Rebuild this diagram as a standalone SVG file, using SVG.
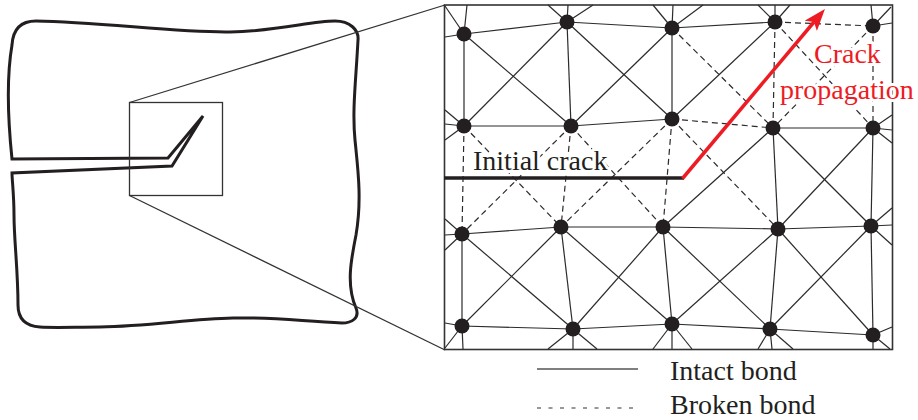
<svg xmlns="http://www.w3.org/2000/svg" width="918" height="420" viewBox="0 0 918 420">
  <style>
    .bond { stroke: #2b2b2b; stroke-width: 1.2; fill: none; stroke-linecap: butt; }
    .broken { stroke: #2b2b2b; stroke-width: 1.2; fill: none; stroke-dasharray: 6 4; }
    .particle { fill: #231f20; }
    .outline { fill: none; stroke: #231f20; stroke-width: 3; stroke-linejoin: miter; }
    .thin { fill: none; stroke: #333; stroke-width: 1.3; }
    .label { font-family: "Liberation Serif", "Times New Roman", serif; font-size: 28px; fill: #231f20; }
    .halo { paint-order: stroke; stroke: #fff; stroke-width: 6; stroke-linejoin: round; }
    .red { fill: #ed1c24; }
  </style>
  <defs>
    <marker id="arrow-red" viewBox="0 0 22 16" refX="5" refY="8" markerWidth="22" markerHeight="16" orient="auto" markerUnits="userSpaceOnUse">
      <path d="M0,0 L22,8 L0,16 L5,8 Z" fill="#ed1c24"/>
    </marker>
  </defs>
  <rect width="918" height="420" fill="#fff"/>

  <!-- specimen with pre-crack -->
  <g id="specimen">
    <path class="outline" d="M12,159 C9,130 6,80 12,45 C13,28 22,21 36,21 C100,22 180,33 230,32 C280,31 310,21 335,21 C350,21 359,30 358,40 C356,80 352,110 355,140 C358,170 362,200 356,235 C351,260 346,285 356,308 C360,318 352,323 342,323 C300,321 270,317 233,318 C190,319 150,326 100,327 C75,327 55,328 40,327 C25,326 18,318 18,305 C18,270 14,240 14,215 C14,195 12,180 12,173 L172,166 L203,116 L168,158 Z"/>
    <rect class="thin" x="129.5" y="102.5" width="93" height="93"/>
    <line class="thin" x1="129.5" y1="102.5" x2="445" y2="5"/>
    <line class="thin" x1="129.5" y1="195.5" x2="445" y2="350"/>
  </g>

  <!-- enlarged region -->
  <rect id="zoom-frame" x="444.5" y="5" width="448" height="344.5" fill="none" stroke="#333" stroke-width="1.6"/>

  <g id="connectors">
    <!-- intact bonds -->
    <g class="bond">
      <line x1="464" y1="34" x2="567" y2="22"/>
      <line x1="567" y1="22" x2="672" y2="28"/>
      <line x1="672" y1="28" x2="775" y2="22"/>
      <line x1="464" y1="34" x2="464" y2="126"/>
      <line x1="567" y1="22" x2="571" y2="126"/>
      <line x1="672" y1="28" x2="672" y2="119"/>
      <line x1="464" y1="34" x2="571" y2="126"/>
      <line x1="567" y1="22" x2="464" y2="126"/>
      <line x1="567" y1="22" x2="672" y2="119"/>
      <line x1="672" y1="28" x2="571" y2="126"/>
      <line x1="672" y1="119" x2="775" y2="22"/>
      <line x1="464" y1="126" x2="571" y2="126"/>
      <line x1="571" y1="126" x2="672" y2="119"/>
      <line x1="773" y1="128" x2="873" y2="128"/>
      <line x1="773" y1="128" x2="778" y2="229"/>
      <line x1="773" y1="128" x2="663" y2="227"/>
      <line x1="773" y1="128" x2="871" y2="226"/>
      <line x1="873" y1="128" x2="778" y2="229"/>
      <line x1="873" y1="128" x2="871" y2="226"/>
      <line x1="462" y1="234" x2="561" y2="227"/>
      <line x1="561" y1="227" x2="663" y2="227"/>
      <line x1="663" y1="227" x2="778" y2="229"/>
      <line x1="778" y1="229" x2="871" y2="226"/>
      <line x1="462" y1="234" x2="462" y2="326"/>
      <line x1="462" y1="234" x2="573" y2="329"/>
      <line x1="561" y1="227" x2="462" y2="326"/>
      <line x1="561" y1="227" x2="573" y2="329"/>
      <line x1="561" y1="227" x2="672" y2="324"/>
      <line x1="663" y1="227" x2="573" y2="329"/>
      <line x1="663" y1="227" x2="672" y2="324"/>
      <line x1="663" y1="227" x2="770" y2="329"/>
      <line x1="778" y1="229" x2="672" y2="324"/>
      <line x1="778" y1="229" x2="770" y2="329"/>
      <line x1="778" y1="229" x2="873" y2="335"/>
      <line x1="871" y1="226" x2="770" y2="329"/>
      <line x1="871" y1="226" x2="873" y2="335"/>
      <line x1="462" y1="326" x2="573" y2="329"/>
      <line x1="573" y1="329" x2="672" y2="324"/>
      <line x1="672" y1="324" x2="770" y2="329"/>
      <line x1="770" y1="329" x2="873" y2="335"/>
      <!-- bonds to particles outside the frame -->
      <line x1="464" y1="34" x2="445" y2="6"/>
      <line x1="464" y1="34" x2="467" y2="5"/>
      <line x1="464" y1="34" x2="445" y2="37"/>
      <line x1="567" y1="22" x2="548" y2="5"/>
      <line x1="567" y1="22" x2="568" y2="5"/>
      <line x1="567" y1="22" x2="593" y2="5"/>
      <line x1="672" y1="28" x2="653" y2="5"/>
      <line x1="672" y1="28" x2="673" y2="5"/>
      <line x1="672" y1="28" x2="703" y2="5"/>
      <line x1="775" y1="22" x2="758" y2="5"/>
      <line x1="775" y1="22" x2="775" y2="5"/>
      <line x1="775" y1="22" x2="790" y2="5"/>
      <line x1="873" y1="26" x2="871" y2="5"/>
      <line x1="873" y1="26" x2="891" y2="7"/>
      <line x1="873" y1="26" x2="892" y2="23"/>
      <line x1="464" y1="126" x2="445" y2="110"/>
      <line x1="464" y1="126" x2="445" y2="124"/>
      <line x1="464" y1="126" x2="445" y2="140"/>
      <line x1="873" y1="128" x2="892" y2="115"/>
      <line x1="873" y1="128" x2="892" y2="130"/>
      <line x1="873" y1="128" x2="892" y2="143"/>
      <line x1="462" y1="234" x2="445" y2="219"/>
      <line x1="462" y1="234" x2="445" y2="235"/>
      <line x1="462" y1="234" x2="445" y2="250"/>
      <line x1="871" y1="226" x2="892" y2="208"/>
      <line x1="871" y1="226" x2="892" y2="225"/>
      <line x1="871" y1="226" x2="892" y2="245"/>
      <line x1="462" y1="326" x2="445" y2="323"/>
      <line x1="462" y1="326" x2="445" y2="348"/>
      <line x1="462" y1="326" x2="463" y2="349"/>
      <line x1="573" y1="329" x2="548" y2="349"/>
      <line x1="573" y1="329" x2="573" y2="349"/>
      <line x1="573" y1="329" x2="597" y2="349"/>
      <line x1="672" y1="324" x2="653" y2="349"/>
      <line x1="672" y1="324" x2="672" y2="349"/>
      <line x1="672" y1="324" x2="692" y2="349"/>
      <line x1="770" y1="329" x2="758" y2="349"/>
      <line x1="770" y1="329" x2="772" y2="349"/>
      <line x1="770" y1="329" x2="793" y2="349"/>
      <line x1="873" y1="335" x2="892" y2="327"/>
      <line x1="873" y1="335" x2="873" y2="349"/>
      <line x1="873" y1="335" x2="890" y2="349"/>
    </g>
    <!-- broken bonds -->
    <g class="broken">
      <line x1="464" y1="126" x2="462" y2="234"/>
      <line x1="464" y1="126" x2="561" y2="227"/>
      <line x1="571" y1="126" x2="462" y2="234"/>
      <line x1="571" y1="126" x2="561" y2="227"/>
      <line x1="571" y1="126" x2="663" y2="227"/>
      <line x1="672" y1="119" x2="561" y2="227"/>
      <line x1="672" y1="119" x2="663" y2="227"/>
      <line x1="672" y1="119" x2="778" y2="229"/>
      <line x1="672" y1="119" x2="773" y2="128"/>
      <line x1="672" y1="28" x2="773" y2="128"/>
      <line x1="775" y1="22" x2="873" y2="26"/>
      <line x1="775" y1="22" x2="773" y2="128"/>
      <line x1="775" y1="22" x2="873" y2="128"/>
      <line x1="873" y1="26" x2="773" y2="128"/>
      <line x1="873" y1="26" x2="873" y2="128"/>
    </g>
  </g>

  <!-- material particles -->
  <g id="A1"><circle class="particle" cx="464" cy="34" r="7.5"/></g>
  <g id="A2"><circle class="particle" cx="567" cy="22" r="7.5"/></g>
  <g id="A3"><circle class="particle" cx="672" cy="28" r="7.5"/></g>
  <g id="A4"><circle class="particle" cx="775" cy="22" r="7.5"/></g>
  <g id="A5"><circle class="particle" cx="873" cy="26" r="7.5"/></g>
  <g id="B1"><circle class="particle" cx="464" cy="126" r="7.5"/></g>
  <g id="B2"><circle class="particle" cx="571" cy="126" r="7.5"/></g>
  <g id="B3"><circle class="particle" cx="672" cy="119" r="7.5"/></g>
  <g id="B4"><circle class="particle" cx="773" cy="128" r="7.5"/></g>
  <g id="B5"><circle class="particle" cx="873" cy="128" r="7.5"/></g>
  <g id="C1"><circle class="particle" cx="462" cy="234" r="7.5"/></g>
  <g id="C2"><circle class="particle" cx="561" cy="227" r="7.5"/></g>
  <g id="C3"><circle class="particle" cx="663" cy="227" r="7.5"/></g>
  <g id="C4"><circle class="particle" cx="778" cy="229" r="7.5"/></g>
  <g id="C5"><circle class="particle" cx="871" cy="226" r="7.5"/></g>
  <g id="D1"><circle class="particle" cx="462" cy="326" r="7.5"/></g>
  <g id="D2"><circle class="particle" cx="573" cy="329" r="7.5"/></g>
  <g id="D3"><circle class="particle" cx="672" cy="324" r="7.5"/></g>
  <g id="D4"><circle class="particle" cx="770" cy="329" r="7.5"/></g>
  <g id="D5"><circle class="particle" cx="873" cy="335" r="7.5"/></g>

  <!-- crack -->
  <g id="crack">
    <line x1="444" y1="178" x2="684" y2="178" stroke="#231f20" stroke-width="3.5"/>
    <line x1="682.5" y1="178.5" x2="814" y2="22" stroke="#ed1c24" stroke-width="3.5" marker-end="url(#arrow-red)"/>
  </g>

  <text class="label halo" x="473" y="170">Initial crack</text>
  <text class="label halo red" x="814" y="63">Crack</text>
  <text class="label halo red" x="780" y="99">propagation</text>

  <!-- legend -->
  <g id="legend">
    <line x1="537" y1="369" x2="638" y2="369" stroke="#555" stroke-width="1.5"/>
    <line x1="537" y1="408" x2="638" y2="408" stroke="#333" stroke-width="1.2" stroke-dasharray="4 7.5"/>
    <text class="label" x="670" y="380">Intact bond</text>
    <text class="label" x="670" y="414">Broken bond</text>
  </g>
</svg>
